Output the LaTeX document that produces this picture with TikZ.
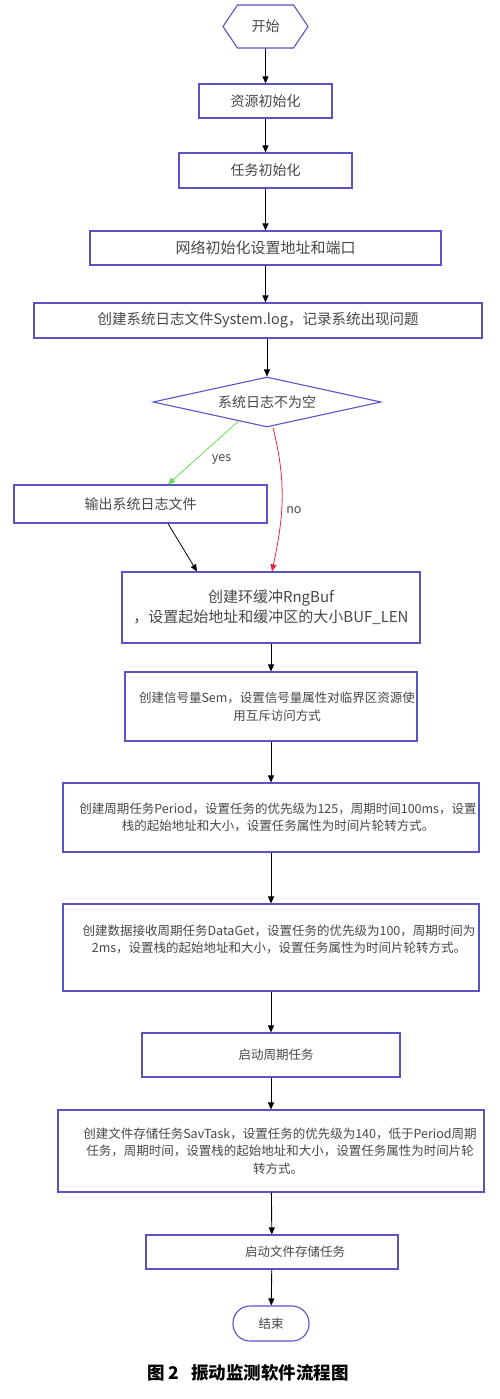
\documentclass[tikz,border=0pt]{standalone}
\usepackage{fontspec}
\setmainfont{Noto Sans CJK SC}
\usetikzlibrary{shapes.geometric,shapes.symbols,arrows.meta,calc}

\definecolor{frame}{HTML}{5A52C6}
\definecolor{ink}{HTML}{474747}
\definecolor{yesline}{HTML}{6ADB5A}
\definecolor{noline}{HTML}{E8283A}

\begin{document}
\begin{tikzpicture}[x=1pt, y=-1pt,
    stepbox/.style={draw=frame, line width=1.1pt, rectangle, text=ink, align=center,
        inner sep=2pt, font=\fontsize{14}{18}\selectfont},
    smallbox/.style={stepbox, font=\fontsize{12.5}{17.5}\selectfont},
    flow/.style={-{Triangle[length=7pt,width=6pt]}, line width=0.9pt, black},
]
\useasboundingbox (0,0) rectangle (500,1399);

% Start / end
\node[stepbox, signal, signal to=west and east, signal pointer angle=112,
      minimum width=85pt, minimum height=43pt] (start) at (265.5,26.5) {开始};
\node[stepbox, rounded corners=17pt, minimum width=76pt, minimum height=35pt,
      font=\fontsize{12.5}{15}\selectfont] (stop) at (271,1323.5) {结束};

% Initialisation
\node[stepbox, minimum width=133pt, minimum height=34pt] (init) at (265.5,101) {资源初始化};
\node[stepbox, minimum width=173pt, minimum height=35pt] (task) at (265.5,170.5) {任务初始化};
\node[stepbox, minimum width=351pt, minimum height=34pt,
      font=\fontsize{15}{18}\selectfont] (net) at (265.5,248) {网络初始化设置地址和端口};
\node[stepbox, minimum width=448pt, minimum height=35pt,
      font=\fontsize{14.5}{18}\selectfont] (log) at (258,320.5)
      {创建系统日志文件System.log，记录系统出现问题};

% Decision
\node[stepbox, diamond, aspect=4.56, inner sep=0pt, minimum width=228pt,
      minimum height=50pt] (check) at (267,402) {系统日志不为空};
\node[stepbox, minimum width=253pt, minimum height=38pt] (out) at (140.5,504) {输出系统日志文件};

% Buffers and tasks
\node[stepbox, minimum width=298pt, minimum height=71pt,
      font=\fontsize{15}{20}\selectfont] (ring) at (271,607.5)
      {创建环缓冲RngBuf\\，设置起始地址和缓冲区的大小BUF\_LEN};
\node[smallbox, minimum width=292pt, minimum height=69pt] (sem) at (271,706.5)
      {\hspace*{12pt}创建信号量Sem，设置信号量属性对临界区资源使\\\hspace*{12pt}用互斥访问方式};
\node[smallbox, minimum width=416pt, minimum height=69pt] (period) at (271,817.5)
      {\hspace*{14pt}创建周期任务Period，设置任务的优先级为125，周期时间100ms，设置\\
       \hspace*{14pt}栈的起始地址和大小，设置任务属性为时间片轮转方式。};
\node[smallbox, minimum width=416pt, minimum height=87pt] (dget) at (271,947.5)
      {\hspace*{16pt}创建数据接收周期任务DataGet，设置任务的优先级为100，周期时间为\\
       \hspace*{16pt}2ms，设置栈的起始地址和大小，设置任务属性为时间片轮转方式。\\ \mbox{}};
\node[smallbox, minimum width=258pt, minimum height=44pt] (startp) at (271,1055)
      {\hspace*{10pt}启动周期任务};
\node[smallbox, minimum width=426pt, minimum height=82pt] (sav) at (271,1151)
      {\hspace*{18pt}创建文件存储任务SavTask，设置任务的优先级为140，低于Period周期\\
       \hspace*{18pt}任务，周期时间，设置栈的起始地址和大小，设置任务属性为时间片轮\\
       \hspace*{14pt}转方式。};
\node[smallbox, minimum width=252pt, minimum height=34pt] (starts) at (272,1252)
      {\hspace*{46pt}启动文件存储任务};

% Caption
\node[font=\fontsize{17.5}{20}\selectfont\bfseries] (cap) at (248,1373)
      {图 2\hspace{0.7em}振动监测软件流程图};

% Arrows
\draw[flow] (start) -- (init);
\draw[flow] (init) -- (task);
\draw[flow] (task) -- (net);
\draw[flow] (net.south) -- (net.south |- log.north);
\draw[flow] (check.north |- log.south) -- (check.north);
\draw[flow, yesline, line width=0.8pt] ($(check.south)!0.25!(check.west)$) --
      node[pos=0.6, right=12pt, text=ink, font=\fontsize{12.5}{15}\selectfont] {yes}
      ([xshift=27.5pt]out.north);
\draw[flow, noline, line width=0.8pt] ([xshift=6pt]check.south) to[out=-76, in=78]
      node[pos=0.58, right=1pt, text=ink, font=\fontsize{12.5}{15}\selectfont] {no}
      ([xshift=1pt]ring.north);
\draw[flow, line width=0.8pt] ([xshift=27.5pt]out.south) -- ([xshift=-74pt]ring.north);
\draw[flow] (ring) -- (sem);
\draw[flow] (sem) -- (period);
\draw[flow] (period) -- (dget);
\draw[flow] (dget) -- (startp);
\draw[flow] (startp) -- (sav);
\draw[flow] (sav) -- (starts);
\draw[flow] (starts) -- (stop);

\end{tikzpicture}
\end{document}
